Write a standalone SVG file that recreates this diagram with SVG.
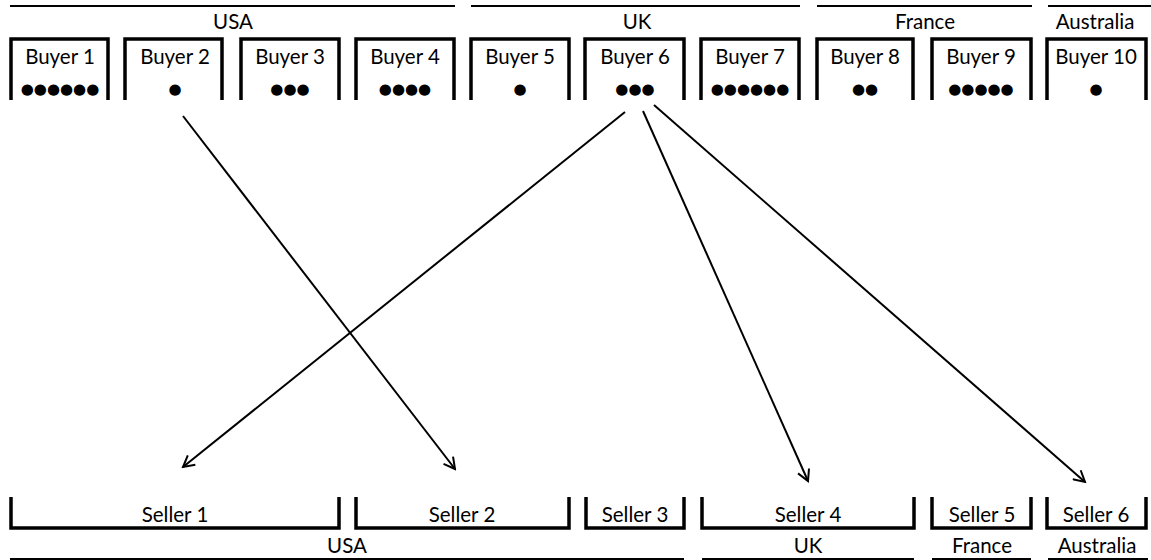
<svg xmlns="http://www.w3.org/2000/svg" width="1151" height="560" viewBox="0 0 1151 560">
<style>
text{font-family:Lato,"Liberation Sans",sans-serif;font-size:20.5px;fill:#000;text-anchor:middle}
.dots{font-family:"DejaVu Sans",sans-serif;font-size:15px}
.box{fill:none;stroke:#000;stroke-width:3.5}
.rule{fill:none;stroke:#000;stroke-width:2}
.conn{fill:none;stroke:#000;stroke-width:2;marker-end:url(#arr)}
</style>
<defs>
<marker id="arr" viewBox="0 0 14 14" refX="12" refY="7" markerWidth="14" markerHeight="14" markerUnits="userSpaceOnUse" orient="auto">
<path d="M1,1 L12,7 L1,13" fill="none" stroke="#000" stroke-width="2"/>
</marker>
</defs>
<rect width="1151" height="560" fill="#fff"/>
<g id="top-regions">
<line class="rule" x1="10" y1="6" x2="455" y2="6"/>
<line class="rule" x1="471" y1="6" x2="800" y2="6"/>
<line class="rule" x1="817" y1="6" x2="1032" y2="6"/>
<line class="rule" x1="1048" y1="6" x2="1151" y2="6"/>
<text x="233" y="29">USA</text>
<text x="637" y="29">UK</text>
<text x="925" y="29">France</text>
<text x="1095" y="29">Australia</text>
</g>
<g id="buyer1"><path class="box" d="M11,100 V39 H108 V100"/><text x="60" y="64">Buyer 1</text><text class="dots" x="60" y="94">●●●●●●</text></g>
<g id="buyer2"><path class="box" d="M125,100 V39 H222 V100"/><text x="175" y="64">Buyer 2</text><text class="dots" x="175" y="94">●</text></g>
<g id="buyer3"><path class="box" d="M241,100 V39 H339 V100"/><text x="290" y="64">Buyer 3</text><text class="dots" x="290" y="94">●●●</text></g>
<g id="buyer4"><path class="box" d="M356,100 V39 H454 V100"/><text x="405" y="64">Buyer 4</text><text class="dots" x="405" y="94">●●●●</text></g>
<g id="buyer5"><path class="box" d="M471,100 V39 H569 V100"/><text x="520" y="64">Buyer 5</text><text class="dots" x="520" y="94">●</text></g>
<g id="buyer6"><path class="box" d="M585,100 V39 H684 V100"/><text x="635" y="64">Buyer 6</text><text class="dots" x="635" y="94">●●●</text></g>
<g id="buyer7"><path class="box" d="M701,100 V39 H799 V100"/><text x="750" y="64">Buyer 7</text><text class="dots" x="750" y="94">●●●●●●</text></g>
<g id="buyer8"><path class="box" d="M817,100 V39 H913 V100"/><text x="865" y="64">Buyer 8</text><text class="dots" x="865" y="94">●●</text></g>
<g id="buyer9"><path class="box" d="M932,100 V39 H1031 V100"/><text x="981" y="64">Buyer 9</text><text class="dots" x="981" y="94">●●●●●</text></g>
<g id="buyer10"><path class="box" d="M1047,100 V39 H1146 V100"/><text x="1096" y="64">Buyer 10</text><text class="dots" x="1096" y="94">●</text></g>
<g id="seller1"><path class="box" d="M11,497 V528 H339 V497"/><text x="175" y="522">Seller 1</text></g>
<g id="seller2"><path class="box" d="M356,497 V528 H569 V497"/><text x="462" y="522">Seller 2</text></g>
<g id="seller3"><path class="box" d="M586,497 V528 H684 V497"/><text x="635" y="522">Seller 3</text></g>
<g id="seller4"><path class="box" d="M702,497 V528 H914 V497"/><text x="808" y="522">Seller 4</text></g>
<g id="seller5"><path class="box" d="M932,497 V528 H1031 V497"/><text x="982" y="522">Seller 5</text></g>
<g id="seller6"><path class="box" d="M1047,497 V528 H1146 V497"/><text x="1096" y="522">Seller 6</text></g>
<g id="bottom-regions">
<line class="rule" x1="10" y1="559" x2="684" y2="559"/>
<line class="rule" x1="702" y1="559" x2="914" y2="559"/>
<line class="rule" x1="932" y1="559" x2="1031" y2="559"/>
<line class="rule" x1="1048" y1="559" x2="1148" y2="559"/>
<text x="347" y="553">USA</text>
<text x="808" y="553">UK</text>
<text x="982" y="553">France</text>
<text x="1097" y="553">Australia</text>
</g>
<g id="connectors">
<line class="conn" x1="183" y1="116" x2="455" y2="469"/>
<line class="conn" x1="625" y1="112" x2="183" y2="467"/>
<line class="conn" x1="643" y1="111" x2="808" y2="481"/>
<line class="conn" x1="654" y1="105" x2="1085" y2="482"/>
</g>
</svg>
